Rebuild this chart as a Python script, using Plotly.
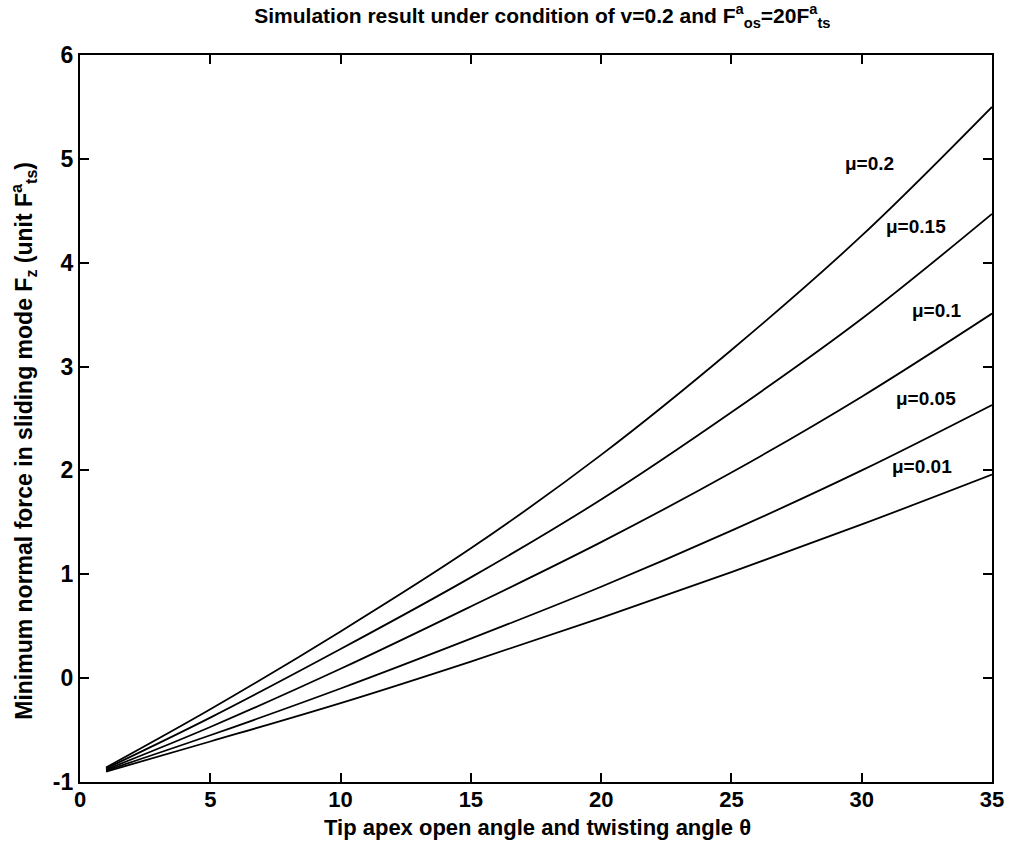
import plotly.graph_objects as go

theta = [1, 5, 10, 15, 20, 25, 30, 35]
mu_labels = ["μ=0.2", "μ=0.15", "μ=0.1", "μ=0.05", "μ=0.01"]
fz_mu020 = [-0.86, -0.30, 0.45, 1.25, 2.15, 3.16, 4.26, 5.50]
fz_mu015 = [-0.87, -0.38, 0.28, 0.97, 1.72, 2.56, 3.46, 4.47]
fz_mu010 = [-0.88, -0.47, 0.09, 0.69, 1.31, 1.98, 2.71, 3.51]
fz_mu005 = [-0.89, -0.55, -0.10, 0.38, 0.88, 1.42, 2.00, 2.63]
fz_mu001 = [-0.90, -0.61, -0.24, 0.16, 0.58, 1.02, 1.48, 1.96]
series = [fz_mu020, fz_mu015, fz_mu010, fz_mu005, fz_mu001]

label_x = [30.3, 32.1, 32.9, 32.45, 32.3]
label_y = [4.96, 4.35, 3.54, 2.69, 2.04]

FONT = "Liberation Sans, Arial, Helvetica, sans-serif"

fig = go.Figure()
for name, ys in zip(mu_labels, series):
    fig.add_trace(go.Scatter(x=theta, y=ys, mode="lines", name=name,
                             line=dict(color="black", width=1.8, shape="spline", smoothing=1.0),
                             showlegend=False, hoverinfo="skip"))

for t, lx, ly in zip(mu_labels, label_x, label_y):
    fig.add_annotation(x=lx, y=ly, text="<b>" + t + "</b>", showarrow=False,
                       font=dict(family=FONT, size=19, color="black"))

# y-axis title as a rotated annotation
fig.add_annotation(xref="paper", yref="paper", x=-0.062, y=0.47,
                   text="<b>Minimum normal force in sliding mode F<sub>z</sub> (unit F<sup>a</sup><sub>ts</sub>)</b>",
                   textangle=-90, showarrow=False, xanchor="center", yanchor="middle",
                   font=dict(family=FONT, size=23, color="black"))

# x-axis title as annotation
fig.add_annotation(xref="paper", yref="paper", x=0.502, y=-0.062,
                   text="<b>Tip apex open angle and twisting angle θ</b>",
                   showarrow=False, xanchor="center", yanchor="middle",
                   font=dict(family=FONT, size=22, color="black"))

fig.update_layout(
    width=1016, height=860,
    margin=dict(l=80, r=22, t=55, b=78),
    paper_bgcolor="white", plot_bgcolor="white",
    font=dict(family=FONT, color="black"),
    title=dict(text="<b>Simulation result under condition of v=0.2 and F<sup>a</sup><sub>os</sub>=20F<sup>a</sup><sub>ts</sub></b>",
               xref="paper", x=0.507, xanchor="center", y=0.99, yanchor="top",
               font=dict(family=FONT, size=21, color="black")),
)
fig.update_xaxes(range=[0, 35], tickvals=[0, 5, 10, 15, 20, 25, 30, 35],
                 ticktext=["<b>%d</b>" % v for v in [0, 5, 10, 15, 20, 25, 30, 35]],
                 ticks="inside", ticklen=9, tickwidth=1.8, tickcolor="black",
                 showline=True, linecolor="black", linewidth=2.2, mirror="ticks",
                 showgrid=False, zeroline=False, ticklabelstandoff=-4,
                 tickfont=dict(family=FONT, size=22, color="black"))
fig.update_yaxes(range=[-1, 6], tickvals=[-1, 0, 1, 2, 3, 4, 5, 6],
                 ticktext=["<b>%d</b>" % v for v in [-1, 0, 1, 2, 3, 4, 5, 6]],
                 ticks="inside", ticklen=9, tickwidth=1.8, tickcolor="black",
                 showline=True, linecolor="black", linewidth=2.2, mirror="ticks",
                 showgrid=False, zeroline=False,
                 tickfont=dict(family=FONT, size=23, color="black"))

fig.write_html("out.html")
